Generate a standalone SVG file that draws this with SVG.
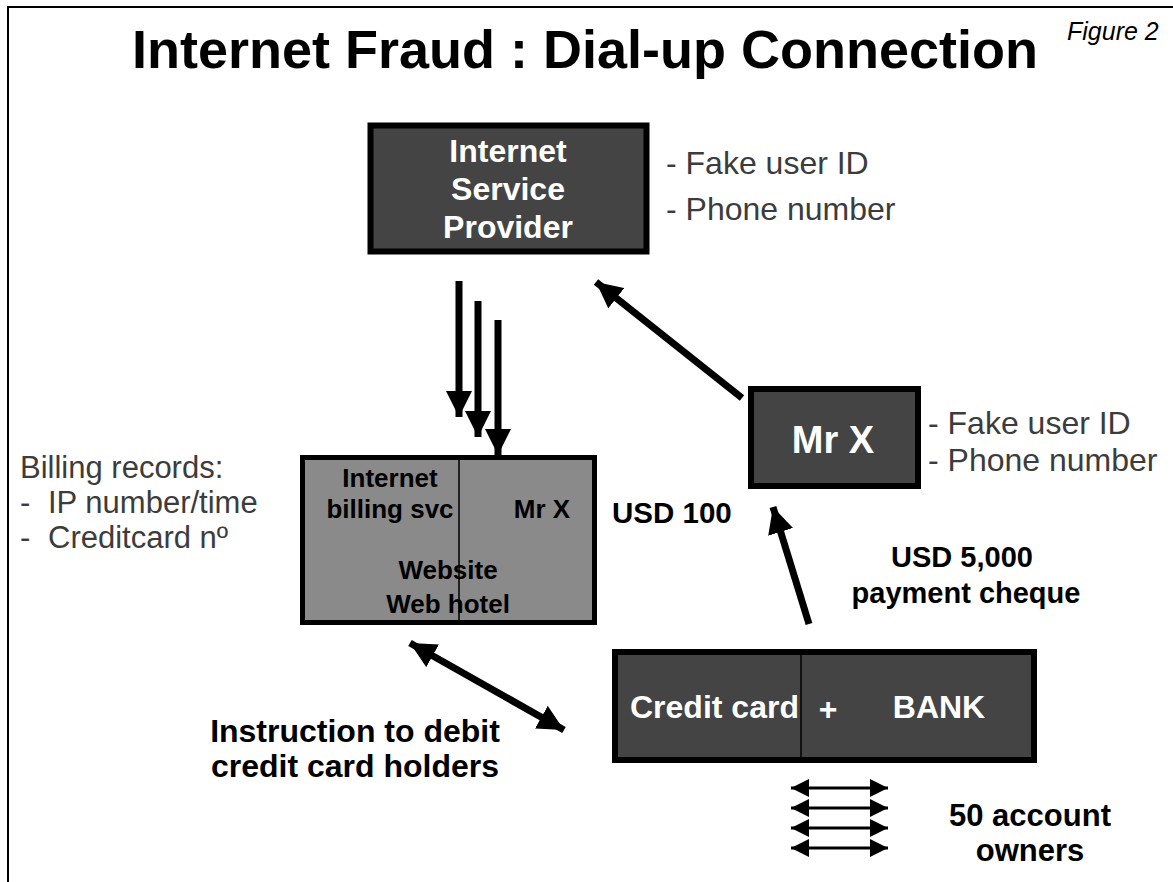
<svg xmlns="http://www.w3.org/2000/svg" width="1173" height="882" viewBox="0 0 1173 882">
<style>
.b{font-family:"Liberation Sans",Arial,sans-serif;font-weight:bold}
.r{font-family:"Liberation Sans",Arial,sans-serif}
.w{fill:#fff}
.k{fill:#000}
.g{fill:#3c3c3c}
.dark{fill:#444;stroke:#000;stroke-width:6}
.ln{stroke:#000;stroke-width:7;fill:none}
.thin{stroke:#000;stroke-width:3;fill:none}
</style>
<defs>
<marker id="ah" markerUnits="userSpaceOnUse" viewBox="0 0 26 26" refX="26" refY="13" markerWidth="26" markerHeight="26" orient="auto-start-reverse">
<path d="M0,0 L26,13 L0,26 Z" fill="#000"/>
</marker>
<marker id="ahs" markerUnits="userSpaceOnUse" viewBox="0 0 18 18" refX="18" refY="9" markerWidth="18" markerHeight="18" orient="auto-start-reverse">
<path d="M0,0 L18,9 L0,18 Z" fill="#000"/>
</marker>
</defs>
<rect width="1173" height="882" fill="#fff"/>
<g id="frame">
<path d="M8,882 V7 H1173" stroke="#000" stroke-width="2" fill="none"/>
</g>
<g id="title">
<text class="b k" x="585" y="68" font-size="54" text-anchor="middle">Internet Fraud : Dial-up Connection</text>
<text class="r k" x="1067" y="40" font-size="25" font-style="italic">Figure 2</text>
</g>
<g id="isp">
<rect class="dark" x="370.5" y="125.5" width="276" height="126" stroke-width="7"/>
<text class="b w" x="508" y="162" font-size="32" text-anchor="middle">Internet</text>
<text class="b w" x="508" y="200" font-size="32" text-anchor="middle">Service</text>
<text class="b w" x="508" y="238" font-size="32" text-anchor="middle">Provider</text>
</g>
<g id="isp-notes">
<text class="r g" x="666" y="174" font-size="32">- Fake user ID</text>
<text class="r g" x="666" y="220" font-size="32">- Phone number</text>
</g>
<g id="billing">
<rect x="302.5" y="457.5" width="292" height="165" fill="#8a8a8a" stroke="#000" stroke-width="5"/>
<line x1="459" y1="460" x2="459" y2="620" stroke="#222" stroke-width="2"/>
<text class="b k" x="390" y="487" font-size="26" text-anchor="middle">Internet</text>
<text class="b k" x="390" y="518" font-size="26" text-anchor="middle">billing svc</text>
<text class="b k" x="542" y="518" font-size="26" text-anchor="middle">Mr X</text>
<text class="b k" x="448" y="579" font-size="26" text-anchor="middle">Website</text>
<text class="b k" x="448" y="613" font-size="26" text-anchor="middle">Web hotel</text>
</g>
<g id="billing-notes">
<text class="r g" x="20" y="478" font-size="31">Billing records:</text>
<text class="r g" y="513" font-size="31"><tspan x="20">-</tspan><tspan x="48">IP number/time</tspan></text>
<text class="r g" y="548" font-size="31"><tspan x="20">-</tspan><tspan x="48">Creditcard nº</tspan></text>
</g>
<g id="mrx">
<rect class="dark" x="751" y="389" width="167" height="97" fill="#474747"/>
<text class="b w" x="833" y="453" font-size="38" text-anchor="middle">Mr X</text>
</g>
<g id="mrx-notes">
<text class="r g" x="928" y="434" font-size="32">- Fake user ID</text>
<text class="r g" x="928" y="471" font-size="32">- Phone number</text>
</g>
<g id="bank">
<rect class="dark" x="615" y="652" width="419" height="108"/>
<line x1="801" y1="655" x2="801" y2="757" stroke="#111" stroke-width="2"/>
<text class="b w" x="630" y="718" font-size="32">Credit card</text>
<text class="b w" x="828" y="720" font-size="32" text-anchor="middle">+</text>
<text class="b w" x="939" y="718" font-size="32" text-anchor="middle">BANK</text>
</g>
<g id="labels">
<text class="b k" x="612" y="523" font-size="29.5">USD 100</text>
<text class="b k" x="962" y="567" font-size="29" text-anchor="middle">USD 5,000</text>
<text class="b k" x="966" y="603" font-size="29" text-anchor="middle">payment cheque</text>
<text class="b k" x="355" y="742" font-size="32" text-anchor="middle">Instruction to debit</text>
<text class="b k" x="355" y="777" font-size="32" text-anchor="middle">credit card holders</text>
<text class="b k" x="1030" y="826" font-size="31" text-anchor="middle">50 account</text>
<text class="b k" x="1030" y="861" font-size="31" text-anchor="middle">owners</text>
</g>
<g id="connectors">
<line class="ln" x1="459" y1="281" x2="459" y2="417" marker-end="url(#ah)"/>
<line class="ln" x1="478" y1="301" x2="478" y2="437" marker-end="url(#ah)"/>
<line class="ln" x1="498" y1="320" x2="498" y2="455" marker-end="url(#ah)"/>
<line class="ln" x1="742" y1="398" x2="596" y2="282" marker-end="url(#ah)"/>
<line class="ln" x1="809" y1="624" x2="773" y2="507" marker-end="url(#ah)"/>
<line class="ln" x1="410" y1="643" x2="564" y2="730" stroke-width="6" marker-start="url(#ah)" marker-end="url(#ah)"/>
<line class="thin" x1="791" y1="788" x2="888" y2="788" marker-start="url(#ahs)" marker-end="url(#ahs)"/>
<line class="thin" x1="791" y1="808" x2="888" y2="808" marker-start="url(#ahs)" marker-end="url(#ahs)"/>
<line class="thin" x1="791" y1="828" x2="888" y2="828" marker-start="url(#ahs)" marker-end="url(#ahs)"/>
<line class="thin" x1="791" y1="848" x2="888" y2="848" marker-start="url(#ahs)" marker-end="url(#ahs)"/>
</g>
</svg>
